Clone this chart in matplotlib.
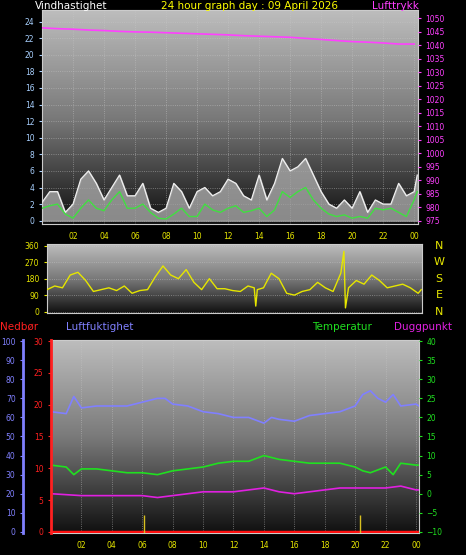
import numpy as np
import matplotlib
matplotlib.use("Agg")
import matplotlib.pyplot as plt
from matplotlib.colors import LinearSegmentedColormap

# ---------------- data ----------------
wind_t = [0,0.5,1,1.5,2,2.5,3,3.5,4,4.5,5,5.5,6,6.5,7,7.5,8,8.5,9,9.5,10,10.5,11,11.5,12,12.5,13,13.5,14,14.5,
          15,15.5,16,16.5,17,17.5,18,18.5,19,19.5,20,20.5,21,21.5,22,22.5,23,23.5,24,24.2]
wind_avg = [1.5,1.8,2.0,0.8,0.3,1.5,2.5,1.5,1.2,2.5,3.5,1.5,1.5,2.0,1.0,0.3,0.2,0.8,1.5,0.5,0.5,2.0,1.3,1.0,1.5,1.8,1.0,1.2,1.5,0.5,
            1.3,3.5,2.8,3.5,4.0,2.5,1.5,0.8,0.5,0.7,0.3,0.5,0.3,1.5,1.3,1.5,1.0,0.5,2.5,3.5]
wind_gust = [2.2,3.5,3.5,1.0,2.0,5.0,6.0,4.5,2.5,4.0,5.5,3.0,3.0,4.5,1.5,1.0,1.5,4.5,3.5,1.5,3.5,4.0,3.0,3.5,5.0,4.5,3.0,2.5,5.5,2.5,
             4.5,7.5,6.0,6.5,7.5,5.5,3.5,2.0,1.5,2.5,1.5,3.5,1.0,2.5,2.0,2.0,4.5,3.0,3.5,5.5]
press_t = list(range(25))
pressure = [1046.5,1046.2,1046.0,1045.7,1045.5,1045.2,1045.0,1044.9,1044.7,1044.5,1044.3,1044.1,1043.9,1043.6,1043.4,
            1043.2,1043.0,1042.6,1042.2,1041.8,1041.4,1041.2,1040.9,1040.5,1040.5]
dir_t = [0,0.5,1,1.5,2,2.5,3,3.5,4,4.5,5,5.5,6,6.5,7,7.5,8,8.5,9,9.5,10,10.5,11,11.5,12,12.5,13,13.4,13.5,13.6,14,14.5,
         15,15.5,16,16.5,17,17.5,18,18.5,19,19.2,19.3,19.5,20,20.5,21,21.5,22,22.5,23,23.5,24,24.2]
wind_dir = [120,140,130,200,215,170,110,120,130,115,140,100,115,120,190,250,200,180,230,160,120,180,125,125,115,110,140,130,30,120,
            130,210,180,100,90,110,120,160,130,110,210,330,20,130,170,150,200,170,130,140,150,130,100,120]
hum_t = [0,1,1.5,2,3,4,5,6,7,7.5,8,9,10,11,12,13,14,14.5,15,16,17,18,19,20,20.5,21,21.5,22,22.5,23,24,24.2]
humidity = [63,62,71,65,66,66,66,68,70,70,67,66,63,62,60,60,57,60,59,58,61,62,63,66,72,74,70,68,72,66,67,66]
temp_t = [0,1,1.5,2,3,4,5,6,7,8,9,10,11,12,13,14,15,16,17,18,19,20,20.5,21,22,22.5,23,24,24.2]
temperature = [7.5,7,5,6.5,6.5,6,5.5,5.5,5,6,6.5,7,8,8.5,8.5,10,9,8.5,8,8,8,7,6,5.5,7,5,8,7.5,7.5]
dew_t = [0,2,4,6,7,8,10,12,14,15,16,18,19,20,22,23,24,24.2]
dewpoint = [0,-0.5,-0.5,-0.5,-1,-0.5,0.5,0.5,1.5,0.5,0,1,1.5,1.5,1.5,2,1,1]
rain_t = [0, 24.2]
rain = [0, 0]
marker_t = [6.1, 20.3]
hour_ticks = [2,4,6,8,10,12,14,16,18,20,22,24]
hour_labels = ["02","04","06","08","10","12","14","16","18","20","22","00"]

W, H = 466, 555
fig = plt.figure(figsize=(W/100, H/100), dpi=100, facecolor="black")
FS = 5.5

def add(x0, y0, x1, y1):
    return fig.add_axes([x0/W, 1-y1/H, (x1-x0)/W, (y1-y0)/H])

grad = np.linspace(0, 1, 256).reshape(-1, 1)
cm = LinearSegmentedColormap.from_list("g", ["#bdbdbd", "#7a7a7a", "#101010"])

def bg(ax):
    ax.set_facecolor("black")
    ax.imshow(grad, aspect="auto", cmap=cm, extent=(0, 1, 0, 1), transform=ax.transAxes, zorder=0)
    ax.grid(True, color="#c8c8c8", ls=":", lw=0.6, alpha=0.6)
    for s in ax.spines.values():
        s.set_color("#cccccc")

def style_x(ax, show=True):
    ax.set_xticks(hour_ticks)
    if show:
        ax.set_xticklabels(hour_labels, color="#e6e600", fontsize=FS)
    else:
        ax.set_xticklabels([])
    ax.tick_params(axis="x", length=0, pad=6)

# ---- panel 1 ----
ax1 = add(42, 10, 418, 224)
bg(ax1)
ax1.set_xlim(0, 24.25)
ax1.set_ylim(-0.4, 25.4)
ax1.fill_between(wind_t, wind_gust, color="#a8a8a8", alpha=0.8, zorder=2)
ax1.plot(wind_t, wind_gust, color="#f0f0f0", lw=0.9, zorder=3)
ax1.plot(wind_t, wind_avg, color="#40e040", lw=1.0, zorder=4)
ax1.set_yticks(range(0, 25, 2))
ax1.tick_params(axis="y", colors="#a8d0ff", labelsize=FS, length=2)
style_x(ax1)
ax1p = ax1.twinx()
ax1p.set_ylim(975 - 0.4*75/24, 975 + 25.0*75/24)
ax1p.plot(press_t, pressure, color="#ff40ff", lw=1.2)
ax1p.set_yticks(range(975, 1051, 5))
ax1p.tick_params(axis="y", colors="#ff40ff", labelsize=FS, length=2)
for s in ax1p.spines.values():
    s.set_visible(False)

# ---- panel 2 ----
ax2 = add(47, 244, 422, 313)
bg(ax2)
ax2.set_xlim(0, 24.25)
ax2.set_ylim(-8, 370)
ax2.plot(dir_t, wind_dir, color="#e6e600", lw=1.0, zorder=3)
ax2.set_yticks([0, 90, 180, 270, 360])
ax2.tick_params(axis="y", colors="#e6e600", labelsize=FS, length=2)
style_x(ax2, show=False)
ax2.grid(False, axis="x")
for lab, v in zip(["N", "W", "S", "E", "N"], [360, 270, 180, 90, 0]):
    ax2.text(1.045, (v + 8) / 378, lab, transform=ax2.transAxes, color="#e6e600",
             fontsize=8, ha="center", va="center")

# ---- panel 3 ----
ax3 = add(51, 340, 419, 533)
bg(ax3)
ax3.set_xlim(0, 24.2)
ax3.set_ylim(-10.3, 40.3)
ax3.plot(hum_t, [h/2 - 10 for h in humidity], color="#8080ff", lw=1.2, zorder=3)
ax3.plot(temp_t, temperature, color="#20e020", lw=1.2, zorder=4)
ax3.plot(dew_t, dewpoint, color="#e020e0", lw=1.2, zorder=4)
ax3.plot(rain_t, [r*50/30 - 10 for r in rain], color="#ff1010", lw=2.5, zorder=5)
for t in marker_t:
    ax3.vlines(t, -10.3, -5.5, color="#d8c020", lw=1.0, zorder=5)
style_x(ax3)
ax3.set_yticks([])
axr = ax3.twinx()
axr.set_ylim(-0.18, 30.18)
axr.yaxis.tick_left()
axr.set_yticks(range(0, 31, 5))
axr.tick_params(axis="y", colors="#ff2020", labelsize=FS, length=2)
for s in axr.spines.values():
    s.set_visible(False)
axr.spines["left"].set_visible(True)
axr.spines["left"].set_color("#ff2020")
axr.spines["left"].set_linewidth(2)
axh = ax3.twinx()
axh.set_ylim(-0.6, 100.6)
axh.yaxis.tick_left()
axh.spines["left"].set_position(("outward", 20))
axh.set_yticks(range(0, 101, 10))
axh.tick_params(axis="y", colors="#8080ff", labelsize=FS, length=2)
for s in axh.spines.values():
    s.set_visible(False)
axh.spines["left"].set_visible(True)
axh.spines["left"].set_color("#8080ff")
axh.spines["left"].set_linewidth(2)
axt = ax3.twinx()
axt.set_ylim(-10.3, 40.3)
axt.set_yticks(range(-10, 41, 5))
axt.tick_params(axis="y", colors="#20e020", labelsize=FS, length=2)
for s in axt.spines.values():
    s.set_visible(False)

# ---- texts ----
def ft(x, y, s, c, ha="left"):
    fig.text(x/W, 1-y/H, s, color=c, fontsize=7.5, ha=ha, va="center")

ft(35, 6, "Vindhastighet", "white")
ft(250, 6, "24 hour graph day : 09 April 2026", "#ffff00", ha="center")
ft(372, 6, "Lufttrykk", "#ff40ff")
ft(0, 327, "Nedbør", "#ff2020")
ft(66, 327, "Luftfuktighet", "#8080ff")
ft(312, 327, "Temperatur", "#20e020")
ft(394, 327, "Duggpunkt", "#e020e0")

fig.savefig("out.png", dpi=100, facecolor="black")
